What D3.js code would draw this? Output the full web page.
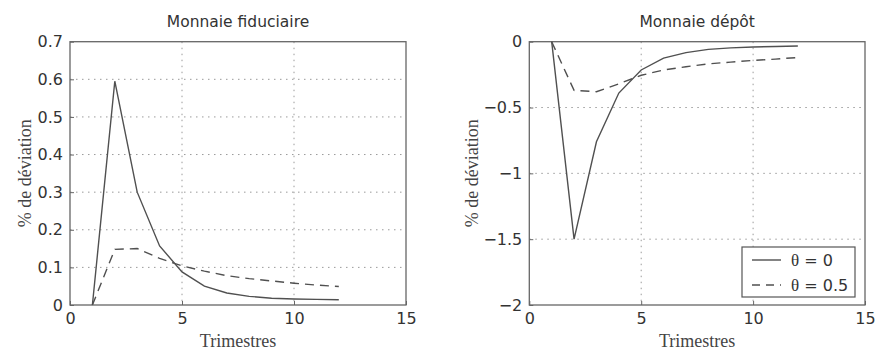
<!DOCTYPE html>
<html>
<head>
<meta charset="utf-8">
<script src="https://cdn.jsdelivr.net/npm/d3@7"></script>
<style>
  html, body { margin: 0; padding: 0; background: #fff; }
  svg { display: block; }
</style>
</head>
<body>
<svg id="chart" width="876" height="352"></svg>
<script>
// ---- data ----
const quarters = [1, 2, 3, 4, 5, 6, 7, 8, 9, 10, 11, 12];
const fiduciaireTheta0  = [0, 0.595, 0.300, 0.157, 0.088, 0.050, 0.032, 0.023, 0.018, 0.016, 0.015, 0.014];
const fiduciaireTheta05 = [0, 0.148, 0.150, 0.124, 0.104, 0.090, 0.078, 0.070, 0.064, 0.058, 0.053, 0.049];
const depotTheta0  = [0, -1.50, -0.76, -0.39, -0.215, -0.125, -0.083, -0.058, -0.047, -0.040, -0.036, -0.033];
const depotTheta05 = [0, -0.37, -0.38, -0.32, -0.255, -0.215, -0.19, -0.168, -0.155, -0.142, -0.132, -0.12];
const xTicks = [0, 5, 10, 15];
const yTicksLeft = [0, 0.1, 0.2, 0.3, 0.4, 0.5, 0.6, 0.7];
const yTicksRight = [0, -0.5, -1, -1.5, -2];
const panelTitles = ["Monnaie fiduciaire", "Monnaie dépôt"];
const seriesLabels = ["0", "0.5"];
const xLabel = "Trimestres";
const yLabel = "% de déviation";

const svg = d3.select("#chart");
const fmt = d3.format("");

function panel(cfg) {
  const x = d3.scaleLinear().domain([0, 15]).range([cfg.left, cfg.right]);
  const y = d3.scaleLinear().domain(cfg.yDomain).range([cfg.bottom, cfg.top]);
  const g = svg.append("g");

  // grid (dotted), interior ticks only
  g.append("g").selectAll("line").data(xTicks.filter(t => t > 0 && t < 15)).join("line")
    .attr("x1", d => x(d)).attr("x2", d => x(d))
    .attr("y1", cfg.top).attr("y2", cfg.bottom)
    .attr("stroke", "#9a9a9a").attr("stroke-width", 1).attr("stroke-dasharray", "1.5,4.5");
  const yt = cfg.yTicks;
  const yd = cfg.yDomain;
  g.append("g").selectAll("line").data(yt.filter(t => t !== yd[0] && t !== yd[1])).join("line")
    .attr("x1", cfg.left).attr("x2", cfg.right)
    .attr("y1", d => y(d)).attr("y2", d => y(d))
    .attr("stroke", "#9a9a9a").attr("stroke-width", 1).attr("stroke-dasharray", "1.5,4.5");

  // axes
  const xAxis = d3.axisBottom(x).tickValues(xTicks).tickFormat(fmt).tickSizeInner(-4).tickSizeOuter(0).tickPadding(8);
  const gx = g.append("g").attr("transform", `translate(0,${cfg.bottom})`).call(xAxis);
  const yAxis = d3.axisLeft(y).tickValues(yt).tickFormat(fmt).tickSizeInner(-4).tickSizeOuter(0).tickPadding(7);
  const gy = g.append("g").attr("transform", `translate(${cfg.left},0)`).call(yAxis);
  [gx, gy].forEach(a => {
    a.select(".domain").remove();
    a.selectAll(".tick line").attr("stroke", "#666");
    a.selectAll(".tick text").attr("font-family", "DejaVu Sans, sans-serif").attr("font-size", 16).attr("fill", "#333");
  });

  // box
  g.append("rect").attr("x", cfg.left).attr("y", cfg.top)
    .attr("width", cfg.right - cfg.left).attr("height", cfg.bottom - cfg.top)
    .attr("fill", "none").attr("stroke", "#666").attr("stroke-width", 1.3);

  const line = d3.line().x((d, i) => x(quarters[i])).y(d => y(d));
  g.append("path").datum(cfg.s1).attr("d", line)
    .attr("fill", "none").attr("stroke", "#505050").attr("stroke-width", 1.4);
  g.append("path").datum(cfg.s2).attr("d", line)
    .attr("fill", "none").attr("stroke", "#505050").attr("stroke-width", 1.4).attr("stroke-dasharray", "9,6");

  // title
  g.append("text").attr("x", (cfg.left + cfg.right) / 2).attr("y", 27)
    .attr("text-anchor", "middle").attr("font-family", "DejaVu Sans, sans-serif")
    .attr("font-size", 15.5).attr("fill", "#333").text(cfg.title);
  // x label
  g.append("text").attr("x", (cfg.left + cfg.right) / 2).attr("y", 347)
    .attr("text-anchor", "middle").attr("font-family", "Liberation Serif, serif")
    .attr("font-size", 18).attr("fill", "#444").text(xLabel);
  // y label
  g.append("text").attr("transform", `translate(${cfg.ylabX},${(cfg.top + cfg.bottom) / 2}) rotate(-90)`)
    .attr("text-anchor", "middle").attr("font-family", "Liberation Serif, serif")
    .attr("font-size", 18).attr("fill", "#444").text(yLabel);
  return { x, y, g };
}

panel({ left: 70, right: 406, top: 41.7, bottom: 305, yDomain: [0, 0.7], yTicks: yTicksLeft,
  s1: fiduciaireTheta0, s2: fiduciaireTheta05, title: panelTitles[0], ylabX: 31 });
panel({ left: 529.3, right: 865, top: 41.7, bottom: 305, yDomain: [-2, 0], yTicks: yTicksRight,
  s1: depotTheta0, s2: depotTheta05, title: panelTitles[1], ylabX: 478 });

// legend
const lg = svg.append("g");
lg.append("rect").attr("x", 742).attr("y", 247).attr("width", 113).attr("height", 50)
  .attr("fill", "#fff").attr("stroke", "#555").attr("stroke-width", 1.2);
seriesLabels.forEach((lab, i) => {
  const yy = 260 + i * 25;
  lg.append("line").attr("x1", 752).attr("x2", 781).attr("y1", yy).attr("y2", yy)
    .attr("stroke", "#505050").attr("stroke-width", 1.4)
    .attr("stroke-dasharray", i === 1 ? "8,6" : null);
  const t = lg.append("text").attr("x", 791).attr("y", yy + 5.5)
    .attr("font-family", "DejaVu Sans, sans-serif").attr("font-size", 16).attr("fill", "#333");
  t.append("tspan").attr("font-family", "Liberation Serif, serif").attr("font-size", 17).text("θ");
  t.append("tspan").text(" = " + lab);
});
</script>
</body>
</html>
